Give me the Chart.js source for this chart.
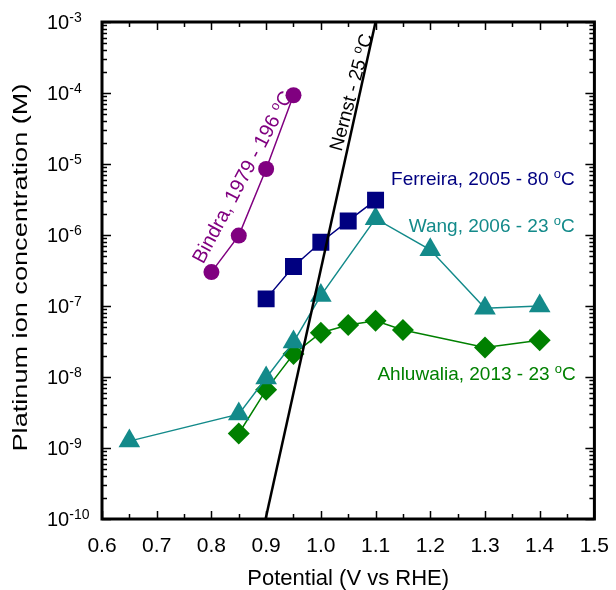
<!DOCTYPE html>
<html>
<head>
<meta charset="utf-8">
<script src="https://cdn.jsdelivr.net/npm/chart.js@4.4.1/dist/chart.umd.min.js"></script>
<style>
  body { margin: 0; background: #fff; }
  #wrap { width: 616px; height: 590px; }
</style>
</head>
<body>
<div id="wrap"><canvas id="chart" width="616" height="590"></canvas></div>
<script>
// values
const bindraX = [0.80, 0.85, 0.90, 0.95];
const bindraY = [3.0e-7, 9.8e-7, 8.5e-6, 9.3e-5];

const ferreiraX = [0.90, 0.95, 1.00, 1.05, 1.10];
const ferreiraY = [1.26e-7, 3.6e-7, 7.9e-7, 1.58e-6, 3.1e-6];

const wangX = [0.65, 0.85, 0.90, 0.95, 1.00, 1.10, 1.20, 1.30, 1.40];
const wangY = [1.25e-9, 3.0e-9, 9.7e-9, 3.1e-8, 1.4e-7, 1.7e-6, 6.2e-7, 9.3e-8, 1.0e-7];

const ahluwaliaX = [0.85, 0.90, 0.95, 1.00, 1.05, 1.10, 1.15, 1.30, 1.40];
const ahluwaliaY = [1.6e-9, 6.6e-9, 2.1e-8, 4.2e-8, 5.4e-8, 6.2e-8, 4.6e-8, 2.6e-8, 3.3e-8];

const nernstX = [0.899, 1.10];
const nernstY = [1e-10, 1e-3];

const decades = [-10, -9, -8, -7, -6, -5, -4, -3];

const purple = '#800080';
const navy = '#000080';
const teal = '#138a8a';
const green = '#008000';

const pts = (xs, ys) => xs.map((x, i) => ({ x: x, y: ys[i] }));

// text labels inside the plot, anchored in data units
const notes = [
  { text: 'Bindra, 1979 - 196 ', x: 0.856, y: 6.6e-6, color: purple, align: 'center', rot: -62, size: 20 },
  { text: 'Nernst - 25 ', x: 1.054, y: 1.03e-4, color: '#000', align: 'center', rot: -75, size: 19 },
  { text: 'Ferreira, 2005 - 80 ', x: 1.464, y: 5.06e-6, color: navy, align: 'right', rot: 0, size: 19 },
  { text: 'Wang, 2006 - 23 ', x: 1.464, y: 1.1e-6, color: teal, align: 'right', rot: 0, size: 19 },
  { text: 'Ahluwalia, 2013 - 23 ', x: 1.466, y: 9.1e-9, color: green, align: 'right', rot: 0, size: 19 }
];

const FONT = 'Liberation Sans, Arial, sans-serif';

// draw "text" + superscript o + "C"
function degreeText(ctx, note, cx, cy) {
  const big = note.size + 'px ' + FONT, small = '13px ' + FONT;
  ctx.font = big;
  const w1 = ctx.measureText(note.text).width;
  const w3 = ctx.measureText('C').width;
  ctx.font = small;
  const w2 = ctx.measureText('o').width;
  const total = w1 + w2 + w3;
  ctx.save();
  ctx.translate(cx, cy);
  ctx.rotate(note.rot * Math.PI / 180);
  const x0 = note.align === 'right' ? -total : note.align === 'center' ? -total / 2 : 0;
  const base = note.align === 'center' ? 7 : 0;
  ctx.fillStyle = note.color;
  ctx.textAlign = 'left';
  ctx.textBaseline = 'alphabetic';
  ctx.font = big;
  ctx.fillText(note.text, x0, base);
  ctx.font = small;
  ctx.fillText('o', x0 + w1, base - 7);
  ctx.font = big;
  ctx.fillText('C', x0 + w1 + w2, base);
  ctx.restore();
}

const framePlugin = {
  id: 'frame',
  afterDraw(chart) {
    const { ctx, chartArea: a, scales: { x, y } } = chart;
    ctx.save();
    ctx.strokeStyle = '#000';
    ctx.lineWidth = 1.5;
    ctx.beginPath();
    // x ticks, inward, top and bottom
    for (let i = 0; i <= 18; i++) {
      const v = 0.6 + i * 0.05;
      const px = Math.round(x.getPixelForValue(v)) + 0.5;
      const len = i % 2 === 0 ? 8 : 5;
      ctx.moveTo(px, a.bottom); ctx.lineTo(px, a.bottom - len);
      ctx.moveTo(px, a.top); ctx.lineTo(px, a.top + len);
    }
    // y ticks, inward, left and right
    decades.forEach(d => {
      for (let k = 1; k <= 9; k++) {
        if (d === -3 && k > 1) break;
        const py = Math.round(y.getPixelForValue(k * Math.pow(10, d))) + 0.5;
        const len = k === 1 ? 9 : 5;
        ctx.moveTo(a.left, py); ctx.lineTo(a.left + len, py);
        ctx.moveTo(a.right, py); ctx.lineTo(a.right - len, py);
      }
    });
    ctx.stroke();
    ctx.lineWidth = 3;
    ctx.strokeRect(a.left, a.top, a.right - a.left, a.bottom - a.top);

    // y tick labels as 10 with superscript exponent
    ctx.fillStyle = '#000';
    ctx.textAlign = 'left';
    ctx.textBaseline = 'alphabetic';
    decades.forEach(d => {
      const py = y.getPixelForValue(Math.pow(10, d));
      ctx.font = '20px ' + FONT;
      ctx.fillText('10', 47, py + 7);
      const w = ctx.measureText('10').width;
      ctx.font = '14px ' + FONT;
      ctx.fillText(String(d), 47 + w, py);
    });

    // y axis title, stretched along its length like the original
    const title = 'Platinum ion concentration (M)';
    ctx.font = '21px ' + FONT;
    const tw = ctx.measureText(title).width;
    ctx.save();
    ctx.translate(21, (a.top + a.bottom) / 2 - 3);
    ctx.rotate(-Math.PI / 2);
    ctx.scale(368 / tw, 1);
    ctx.textAlign = 'center';
    ctx.textBaseline = 'middle';
    ctx.fillText(title, 0, 0);
    ctx.restore();

    notes.forEach(n => {
      degreeText(ctx, n, x.getPixelForValue(n.x), y.getPixelForValue(n.y));
    });
    ctx.restore();
  }
};

new Chart(document.getElementById('chart'), {
  type: 'line',
  data: {
    datasets: [
      {
        label: 'Nernst - 25 °C',
        data: pts(nernstX, nernstY),
        borderColor: '#000',
        borderWidth: 2.5,
        pointRadius: 0
      },
      {
        label: 'Bindra, 1979 - 196 °C',
        data: pts(bindraX, bindraY),
        borderColor: purple,
        backgroundColor: purple,
        borderWidth: 1.5,
        pointStyle: 'circle',
        pointRadius: 8,
        pointBorderWidth: 0
      },
      {
        label: 'Ferreira, 2005 - 80 °C',
        data: pts(ferreiraX, ferreiraY),
        borderColor: navy,
        backgroundColor: navy,
        borderWidth: 1.5,
        pointStyle: 'rect',
        pointRadius: 12,
        pointBorderWidth: 0
      },
      {
        label: 'Wang, 2006 - 23 °C',
        data: pts(wangX, wangY),
        borderColor: teal,
        backgroundColor: teal,
        borderWidth: 1.5,
        pointStyle: 'triangle',
        pointRadius: 12.5,
        pointBorderWidth: 0
      },
      {
        label: 'Ahluwalia, 2013 - 23 °C',
        data: pts(ahluwaliaX, ahluwaliaY),
        borderColor: green,
        backgroundColor: green,
        borderWidth: 1.5,
        pointStyle: 'rectRot',
        pointRadius: 11,
        pointBorderWidth: 0
      }
    ]
  },
  options: {
    responsive: false,
    animation: false,
    layout: { padding: { top: 22, right: 6, left: 0, bottom: 0 } },
    plugins: {
      legend: { display: false },
      tooltip: { enabled: false }
    },
    scales: {
      x: {
        type: 'linear',
        min: 0.6,
        max: 1.5,
        grid: { display: false },
        border: { display: false },
        ticks: {
          stepSize: 0.1,
          autoSkip: false,
          maxRotation: 0,
          padding: 7,
          color: '#000',
          font: { family: FONT, size: 21 },
          callback: v => Number(v).toFixed(1)
        },
        title: {
          display: true,
          text: 'Potential (V vs RHE)',
          color: '#000',
          font: { family: FONT, size: 22, lineHeight: 1 },
          padding: { top: 0, bottom: 0 }
        },
        afterFit: s => { s.height = 71; }
      },
      y: {
        type: 'logarithmic',
        min: 1e-10,
        max: 1e-3,
        grid: { display: false },
        border: { display: false },
        ticks: { display: false },
        title: { display: false },
        afterFit: s => { s.width = 102; }
      }
    }
  },
  plugins: [framePlugin]
});
</script>
</body>
</html>
